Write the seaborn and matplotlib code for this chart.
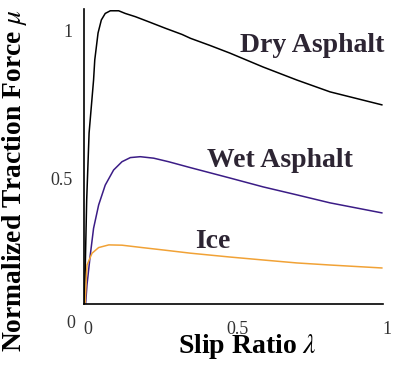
import numpy as np
import pandas as pd
import matplotlib
matplotlib.use("Agg")
import matplotlib.pyplot as plt
import matplotlib.transforms as mtransforms
import seaborn as sns

# ---- data ----
dry_x = [0.0, 0.009, 0.017, 0.032, 0.036, 0.047, 0.058, 0.071, 0.088, 0.116, 0.138, 0.172, 0.216,
         0.272, 0.328, 0.356, 0.421, 0.488, 0.599, 0.712, 0.823, 0.997]
dry_y = [0.0, 0.426, 0.652, 0.831, 0.899, 0.990, 1.034, 1.056, 1.065, 1.065, 1.056, 1.045, 1.028,
         1.006, 0.985, 0.972, 0.948, 0.922, 0.875, 0.831, 0.791, 0.747]

wet_x = [0.0, 0.010, 0.021, 0.032, 0.049, 0.071, 0.099, 0.127, 0.155, 0.188, 0.233, 0.283, 0.356,
         0.488, 0.599, 0.712, 0.823, 0.997]
wet_y = [0.0, 0.139, 0.240, 0.330, 0.409, 0.476, 0.527, 0.555, 0.569, 0.572, 0.567, 0.555, 0.535,
         0.500, 0.470, 0.443, 0.416, 0.382]

ice_x = [0.0, 0.010, 0.027, 0.049, 0.083, 0.127, 0.194, 0.272, 0.356, 0.488, 0.599, 0.712, 0.823, 0.997]
ice_y = [0.0, 0.206, 0.246, 0.265, 0.274, 0.273, 0.265, 0.256, 0.246, 0.233, 0.223, 0.213, 0.206, 0.196]

surfaces = ["Dry Asphalt", "Wet Asphalt", "Ice"]
x_ticks = [0, 0.5, 1]
x_tick_labels = ["0", "0.5", "1"]
y_ticks = [0.5, 1]
y_tick_labels = ["0.5", "1"]

colors = {"Dry Asphalt": "#000000", "Wet Asphalt": "#3b1c86", "Ice": "#f1a236"}

frames = []
for name, xs, ys in zip(surfaces, [dry_x, wet_x, ice_x], [dry_y, wet_y, ice_y]):
    frames.append(pd.DataFrame({"slip": xs, "mu": ys, "surface": name}))
df = pd.concat(frames, ignore_index=True)

# ---- figure ----
sns.set_style("white")
plt.rcParams["font.family"] = ["Liberation Serif", "DejaVu Serif"]
plt.rcParams["mathtext.fontset"] = "stix"

W, H = 397, 371
fig = plt.figure(figsize=(W / 100, H / 100), dpi=100)
left, right, bottom, top = 84, 383, 304, 9.3
ax = fig.add_axes([left / W, (H - bottom) / H, (right - left) / W, (bottom - top) / H])

sns.lineplot(data=df, x="slip", y="mu", hue="surface", palette=colors,
             estimator=None, sort=False, legend=False, ax=ax, linewidth=1.1)

ax.set_xlim(0, 1)
ax.set_ylim(0.0743, 1.07)
for s in ["top", "right"]:
    ax.spines[s].set_visible(False)
for s in ["left", "bottom"]:
    ax.spines[s].set_color("black")
    ax.spines[s].set_linewidth(1.2)

ax.set_xticks(x_ticks)
ax.set_xticklabels(x_tick_labels)
ax.set_yticks(y_ticks)
ax.set_yticklabels(y_tick_labels)
ax.tick_params(axis="both", length=0, labelsize=13, colors="#333333")
ax.tick_params(axis="x", pad=12.5)
ax.tick_params(axis="y", pad=8)
offset = mtransforms.ScaledTranslation(4 / 100, 0, fig.dpi_scale_trans)
for lbl in ax.get_xticklabels():
    lbl.set_transform(lbl.get_transform() + offset)

ax.set_xlabel("")
ax.set_ylabel("")

# origin "0" for the y axis, below the plotting area
fig.text(75 / W, 1 - 323 / H, "0", ha="right", va="center", fontsize=13, color="#333333")

fig.text(247.5 / W, 1 - 353 / H, r"Slip Ratio $\lambda$", fontsize=20, fontweight="bold",
         color="black", ha="center", va="baseline")
fig.text(15 / W, 1 - 181 / H, r"Normalized Traction Force $\mu$", fontsize=19.8, fontweight="bold",
         color="black", ha="center", va="center", rotation=90)

label_color = "#2d2533"
fig.text(240 / W, 1 - 52 / H, "Dry Asphalt", fontsize=20, fontweight="bold", color=label_color, ha="left", va="baseline")
fig.text(207 / W, 1 - 167 / H, "Wet Asphalt", fontsize=20, fontweight="bold", color=label_color, ha="left", va="baseline")
fig.text(195 / W, 1 - 248 / H, "Ice", fontsize=20, fontweight="bold", color=label_color, ha="left", va="baseline")

fig.savefig("out.png", dpi=100)
